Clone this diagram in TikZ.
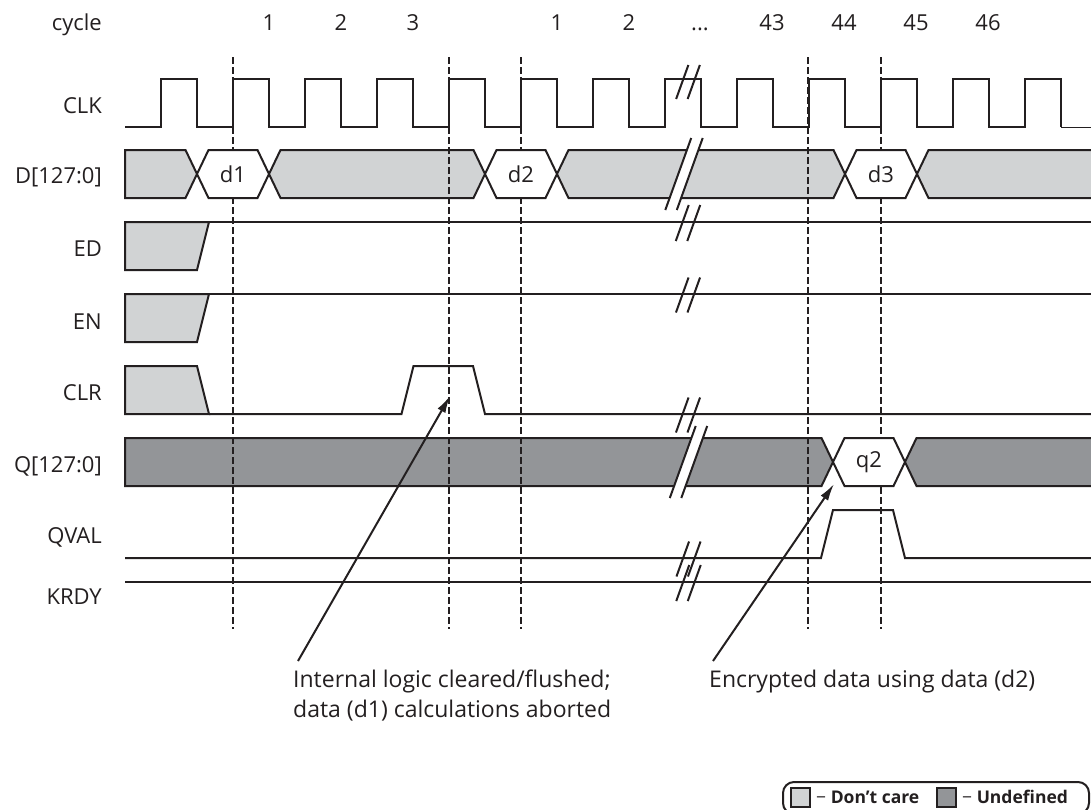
\documentclass[tikz,border=0pt]{standalone}
\usepackage{fontspec}
\setmainfont{Open Sans}
\usetikzlibrary{arrows.meta}
\definecolor{dcare}{HTML}{D1D3D4}
\definecolor{undef}{HTML}{939598}
\definecolor{ink}{HTML}{231F20}
\newcommand\brkfill[3]{%
  \fill[white] ({#1-5.75-0.36*#3},{#2+#3}) -- ({#1-5.75+0.36*#3},{#2-#3}) -- ({#1+5.75+0.36*#3},{#2-#3}) -- ({#1+5.75-0.36*#3},{#2+#3}) -- cycle;}
\newcommand\brklines[3]{%
  \draw[slash] ({#1-5.75-0.36*#3},{#2+#3}) -- ({#1-5.75+0.36*#3},{#2-#3});
  \draw[slash] ({#1+5.75-0.36*#3},{#2+#3}) -- ({#1+5.75+0.36*#3},{#2-#3});}
\begin{document}
\begin{tikzpicture}[x=1pt,y=-1pt,
  wave/.style={draw=ink,line width=2pt,line join=miter,line cap=butt},
  band/.style={wave,fill=dcare},
  uband/.style={wave,fill=undef},
  hexbox/.style={wave,fill=white},
  slash/.style={draw=ink,line width=2pt},
  dashline/.style={draw=ink,line width=1.7pt,dash pattern=on 6.5pt off 3.5pt},
  lbl/.style={anchor=base east,inner sep=0pt,font=\fontsize{22}{26}\selectfont,text=ink},
  num/.style={anchor=base,inner sep=0pt,font=\fontsize{22}{26}\selectfont,text=ink},
  dlbl/.style={inner sep=0pt,font=\fontsize{22}{26}\selectfont,text=ink},
  ann/.style={anchor=base west,inner sep=0pt,font=\fontsize{23}{28}\selectfont,text=ink},
  leg/.style={anchor=base west,inner sep=0pt,font=\fontsize{17.5}{22}\selectfont\bfseries,text=ink},
  legsq/.style={draw=ink,line width=2pt,minimum width=19pt,minimum height=19pt,inner sep=0pt},
  arr/.style={draw=ink,line width=2pt,-{Latex[length=17pt,width=9pt]}}]
\useasboundingbox (0,0) rectangle (1091,809);

% ---- labels
\node[lbl] (lcycle) at (102,30) {cycle};
\node[lbl] (lclk) at (102,113) {CLK};
\node[lbl] (ld) at (102,183) {D[127:0]};
\node[lbl] (led) at (102,256) {ED};
\node[lbl] (len) at (102,329) {EN};
\node[lbl] (lclr) at (102,400) {CLR};
\node[lbl] (lq) at (102,472) {Q[127:0]};
\node[lbl] (lqval) at (102,543) {QVAL};
\node[lbl] (lkrdy) at (102,604) {KRDY};

% ---- cycle numbers
\node[num] (n1) at (269,30.5) {1};
\node[num] (n2) at (341,30.5) {2};
\node[num] (n3) at (413,30.5) {3};
\node[num] (n4) at (557,30.5) {1};
\node[num] (n5) at (629,30.5) {2};
\node[num] (n6) at (700,30.5) {...};
\node[num] (n7) at (772,30.5) {43};
\node[num] (n8) at (844,30.5) {44};
\node[num] (n9) at (916,30.5) {45};
\node[num] (n10) at (988,30.5) {46};

% ---- CLK
\draw[wave] (125,127) \foreach \k in {0,...,12}{ -- ({161+72*\k},127) -- ({161+72*\k},79) -- ({197+72*\k},79) -- ({197+72*\k},127) };
\draw[draw=ink,line width=1pt] (1061,127) -- (1091,127);

% ---- D bands
\path[band] (125,150) -- (185.5,150) -- (197,174) -- (185.5,198) -- (125,198) -- cycle;
\path[band] (269,174) -- (280.5,150) -- (473.5,150) -- (485,174) -- (473.5,198) -- (280.5,198) -- cycle;
\path[band] (557,174) -- (568.5,150) -- (833.5,150) -- (845,174) -- (833.5,198) -- (568.5,198) -- cycle;
\fill[dcare] (917,174) -- (928.5,150) -- (1091,150) -- (1091,198) -- (928.5,198) -- cycle;
\draw[wave] (1091,150) -- (928.5,150) -- (917,174) -- (928.5,198) -- (1091,198);

% ---- ED / EN
\path[band] (125,222) -- (209,222) -- (197,270) -- (125,270) -- cycle;
\draw[wave] (209,222) -- (1091,222);
\path[band] (125,294) -- (209,294) -- (197,342) -- (125,342) -- cycle;
\draw[wave] (209,294) -- (1091,294);

% ---- CLR
\path[band] (125,366) -- (197,366) -- (209,414) -- (125,414) -- cycle;
\draw[wave] (209,414) -- (401.5,414) -- (413.5,366) -- (473,366) -- (485,414) -- (1091,414);

% ---- Q
\path[uband] (125,438) -- (821.5,438) -- (833,462) -- (821.5,486) -- (125,486) -- cycle;
\fill[undef] (905,462) -- (916.5,438) -- (1091,438) -- (1091,486) -- (916.5,486) -- cycle;
\draw[wave] (1091,438) -- (916.5,438) -- (905,462) -- (916.5,486) -- (1091,486);

% ---- QVAL / KRDY
\draw[wave] (125,558) -- (821,558) -- (833,510) -- (893,510) -- (905,558) -- (1091,558);
\draw[wave] (125,582) -- (1091,582);

% ---- breaks
\brkfill{684}{174}{36}
\brkfill{688.5}{462}{36}
\brklines{688}{82}{17}
\brklines{684}{174}{36}
\brklines{688}{223}{18}
\brklines{688}{295}{17.5}
\brklines{688}{415}{17.5}
\brklines{688.5}{462}{36}
\brklines{688.5}{559}{17.5}
\brklines{688.5}{583}{18}

% ---- dashed cycle markers
\foreach \x in {233,449,521,808,881} \draw[dashline] (\x,57) -- (\x,629);

% ---- valid data hexes
\path[hexbox] (197,174) -- (208.5,150) -- (257.5,150) -- (269,174) -- (257.5,198) -- (208.5,198) -- cycle;
\path[hexbox] (485,174) -- (496.5,150) -- (545.5,150) -- (557,174) -- (545.5,198) -- (496.5,198) -- cycle;
\path[hexbox] (845,174) -- (856.5,150) -- (905.5,150) -- (917,174) -- (905.5,198) -- (856.5,198) -- cycle;
\path[hexbox] (833,462) -- (844.5,438) -- (893.5,438) -- (905,462) -- (893.5,486) -- (844.5,486) -- cycle;
\node[dlbl] (d1) at (233,174) {d1};
\node[dlbl] (d2) at (521,174) {d2};
\node[dlbl] (d3) at (881,174) {d3};
\node[dlbl] (q2) at (869,462) {q2};

% ---- annotations
\node[ann] (t1a) at (293,687) {Internal logic cleared/flushed;};
\node[ann] (t1b) at (293,717) {data (d1) calculations aborted};
\node[ann] (t2) at (709,687) {Encrypted data using data (d2)};
\coordinate (a1s) at (298,661);
\coordinate (a1e) at (450,396);
\coordinate (a2s) at (713,661);
\coordinate (a2e) at (834,484);
\draw[arr] (a1s) -- (a1e);
\draw[arr] (a2s) -- (a2e);

% ---- legend
\draw[draw=ink,line width=2pt,rounded corners=11pt] (783,782) rectangle (1089,814);
\node[legsq,fill=dcare] (sq1) at (800,797) {};
\node[leg] (lg1) at (816,803.5) {{\mdseries −} Don't care};
\node[legsq,fill=undef] (sq2) at (946,797) {};
\node[leg] (lg2) at (962,803.5) {{\mdseries −} Undefined};
\end{tikzpicture}
\end{document}
